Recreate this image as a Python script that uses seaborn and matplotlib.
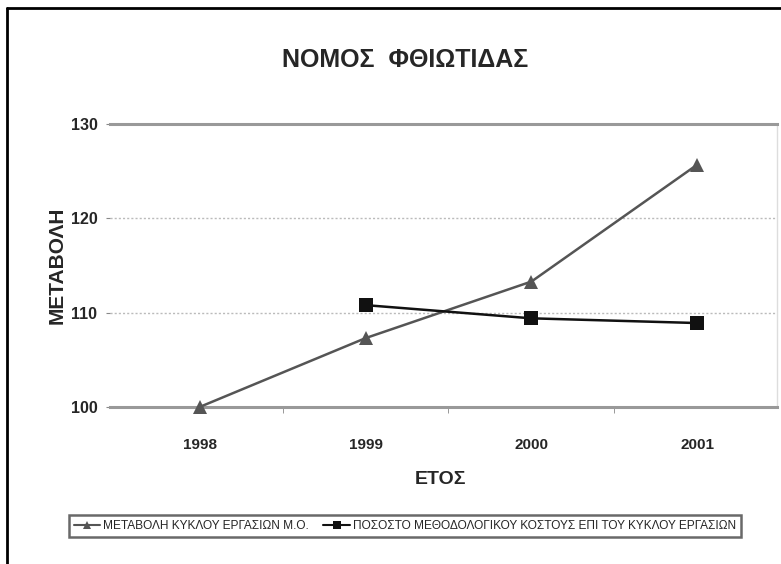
import pandas as pd
import numpy as np
import matplotlib
matplotlib.use("Agg")
import matplotlib.pyplot as plt
import seaborn as sns
from matplotlib.lines import Line2D

# datos
anios = ["1998", "1999", "2000", "2001"]
metabolh = [100.0, 107.3, 113.3, 125.7]
pososto = [np.nan, 110.8, 109.4, 108.9]
etiquetas = ["ΜΕΤΑΒΟΛΗ ΚΥΚΛΟΥ ΕΡΓΑΣΙΩΝ Μ.Ο.",
             "ΠΟΣΟΣΤΟ ΜΕΘΟΔΟΛΟΓΙΚΟΥ ΚΟΣΤΟΥΣ ΕΠΙ ΤΟΥ ΚΥΚΛΟΥ ΕΡΓΑΣΙΩΝ"]
yticks = [100, 110, 120, 130]

df = pd.DataFrame({"pos": range(len(anios)), "anio": anios,
                   etiquetas[0]: metabolh, etiquetas[1]: pososto})
df_largo = df.melt(id_vars=["pos", "anio"], var_name="serie", value_name="valor").dropna()

sns.set_style("white")
plt.rcParams["font.family"] = ["Liberation Sans", "DejaVu Sans"]

fig = plt.figure(figsize=(7.81, 5.64), dpi=100)
ax = fig.add_axes([110 / 781, 1 - 407 / 564, (777 - 110) / 781, (407 - 124) / 564])

colores = {etiquetas[0]: "#555555", etiquetas[1]: "#111111"}
marcadores = {etiquetas[0]: "^", etiquetas[1]: "s"}
sns.lineplot(data=df_largo, x="pos", y="valor", hue="serie", style="serie",
             palette=colores, markers=marcadores, dashes=False, markersize=10,
             markeredgewidth=0, linewidth=1.8, legend=False, ax=ax)
for linea in ax.get_lines():
    linea.set_clip_on(False)
    linea.set_zorder(5)

ax.set_xlim(-0.54, 3.48)
ax.set_ylim(100, 130)
ax.set_xticks(range(len(anios)))
ax.set_xticklabels(anios, fontsize=11, fontweight="bold")
ax.set_xticks([0.5, 1.5, 2.5], minor=True)
ax.set_yticks(yticks)
ax.set_yticklabels([str(v) for v in yticks], fontsize=11.5, fontweight="bold")
ax.tick_params(axis="x", which="major", length=0, pad=22)
ax.tick_params(axis="x", which="minor", length=4, color="#888888", direction="out", bottom=True)
ax.tick_params(axis="y", length=3, color="#888888", left=True, pad=6)
ax.set_xlabel("")
ax.set_ylabel("")

# lineas de division punteadas
for v in yticks[1:-1]:
    ax.axhline(v, color="#bbbbbb", linestyle=(0, (1.5, 1.5)), linewidth=1.0, zorder=0)

for lado in ["top", "bottom"]:
    ax.spines[lado].set_color("#999999")
    ax.spines[lado].set_linewidth(2.2)
ax.spines["left"].set_visible(False)
ax.spines["right"].set_color("#dddddd")
ax.spines["right"].set_linewidth(1)

fig.text(405 / 781, 1 - 60 / 564, "ΝΟΜΟΣ  ΦΘΙΩΤΙΔΑΣ", fontsize=18, fontweight="bold",
         ha="center", va="center")
fig.text(440 / 781, 1 - 480 / 564, "ΕΤΟΣ", fontsize=14, fontweight="bold",
         ha="center", va="center")
fig.text(57 / 781, 1 - 265 / 564, "ΜΕΤΑΒΟΛΗ", fontsize=15, fontweight="bold",
         ha="center", va="center", rotation=90)

handles = [Line2D([], [], color=colores[e], marker=marcadores[e], markersize=6,
                  markeredgewidth=0, linewidth=1.5) for e in etiquetas]
leg = fig.legend(handles, etiquetas, loc="center", bbox_to_anchor=(405 / 781, 1 - 526 / 564),
                 ncol=2, fontsize=8.6, frameon=True, fancybox=False, handlelength=2.2,
                 handletextpad=0.3, columnspacing=1.2, borderpad=0.4)
leg.get_frame().set_edgecolor("#444444")
leg.get_frame().set_linewidth(1.8)

# marco exterior
fig.add_artist(Line2D([7 / 781, 7 / 781], [0, 1 - 8 / 564], color="black", linewidth=2))
fig.add_artist(Line2D([7 / 781, 1], [1 - 8 / 564, 1 - 8 / 564], color="black", linewidth=2))

fig.savefig("out.png", dpi=100)
